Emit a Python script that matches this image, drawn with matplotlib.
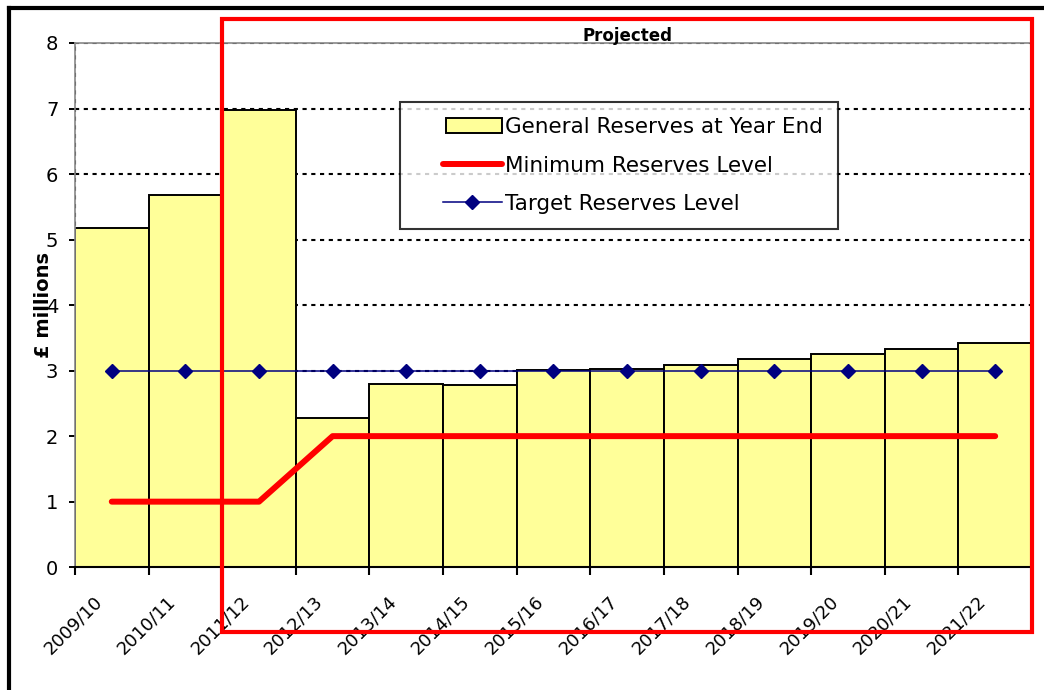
import matplotlib.pyplot as plt
import matplotlib.transforms as mtransforms
from matplotlib.patches import Rectangle, Patch
from matplotlib.lines import Line2D
from matplotlib.legend_handler import HandlerLine2D, HandlerPatch

# Data
years = ["2009/10", "2010/11", "2011/12", "2012/13", "2013/14", "2014/15", "2015/16",
         "2016/17", "2017/18", "2018/19", "2019/20", "2020/21", "2021/22"]
general_reserves = [5.17, 5.68, 6.97, 2.27, 2.79, 2.78, 3.01, 3.02, 3.09, 3.18, 3.25, 3.33, 3.42]
minimum_level = [1, 1, 1, 2, 2, 2, 2, 2, 2, 2, 2, 2, 2]
target_level = [3, 3, 3, 3, 3, 3, 3, 3, 3, 3, 3, 3, 3]
projected_from = 2  # index of first projected year

plt.rcParams['font.family'] = ['DejaVu Sans']

fig = plt.figure(figsize=(10.44, 6.9), dpi=100)
ax = fig.add_axes([0.0718, 0.178, 0.9167, 0.7597])

n = len(years)
centers = [i + 0.5 for i in range(n)]

# bars
ax.bar(centers, general_reserves, width=1.0, color='#FFFF99', edgecolor='black',
       linewidth=1.4, zorder=2)
# minimum reserves line
ax.plot(centers, minimum_level, color='#FF0000', linewidth=4.3,
        solid_capstyle='round', solid_joinstyle='round', zorder=3)
# target reserves line
ax.plot(centers, target_level, color='#000080', linewidth=1.1, marker='D',
        markersize=7, zorder=4)

ax.set_xlim(0, n)
ax.set_ylim(0, 8)
ax.set_yticks(range(0, 9))
ax.tick_params(axis='y', labelsize=14, length=4, width=1.4, direction='out', pad=8)

# grid
ax.set_axisbelow(True)
ax.yaxis.grid(True, color='black', linestyle=(0, (2.0, 2.2)), linewidth=1.5)
ax.axvline(0, color='black', linestyle=(0, (2.0, 2.2)), linewidth=1.5, zorder=1)

# x ticks: labels near category centres, tick marks at boundaries
ax.set_xticks(centers)
ax.set_xticklabels(years, rotation=45, ha='right', va='top', rotation_mode='anchor', fontsize=13)
ax.tick_params(axis='x', which='major', length=0, pad=18)
ax.set_xticks(range(0, n + 1), minor=True)
ax.tick_params(axis='x', which='minor', length=6, width=1.5, direction='out')
offset = mtransforms.ScaledTranslation(-19 / 100, 0, fig.dpi_scale_trans)
for lbl in ax.get_xticklabels():
    lbl.set_transform(lbl.get_transform() + offset)

for side in ['top', 'right', 'left']:
    ax.spines[side].set_color('#888888')
    ax.spines[side].set_linewidth(1.2)
ax.spines['bottom'].set_color('black')
ax.spines['bottom'].set_linewidth(1.5)

ax.set_ylabel("£ millions", fontsize=14, fontweight='bold', labelpad=-5)

# projected region box
blend = mtransforms.blended_transform_factory(ax.transData, ax.transAxes)
box = Rectangle((projected_from, -0.124), n - projected_from, 1.17, transform=blend,
                fill=False, edgecolor='#FF0000', linewidth=3, clip_on=False, zorder=6)
ax.add_patch(box)
ax.text((projected_from + n) / 2, 1.013, "Projected", transform=blend, ha='center',
        va='center', fontsize=12, fontweight='bold', zorder=7)

# legend
handles = [
    Patch(facecolor='#FFFF99', edgecolor='black', linewidth=1.4),
    Line2D([], [], color='#FF0000', linewidth=4.3, solid_capstyle='round'),
    Line2D([], [], color='#000080', linewidth=1.1, marker='D', markersize=7),
]
labels = ["General Reserves at Year End", "Minimum Reserves Level", "Target Reserves Level"]
hmap = {handles[0]: HandlerPatch(xpad=1.4),
        handles[1]: HandlerLine2D(xpad=1.3),
        handles[2]: HandlerLine2D(xpad=1.3)}
leg = ax.legend(handles, labels, handler_map=hmap, loc='upper left',
                bbox_to_anchor=(0.34, 0.887), borderaxespad=0,
                fontsize=15.5, frameon=True, fancybox=False, handlelength=4.0,
                handletextpad=0.15, labelspacing=0.85, borderpad=0.7)
leg.get_frame().set_edgecolor('black')
leg.get_frame().set_linewidth(1.5)
leg.set_zorder(8)

# outer chart border (partly outside the image)
fig.add_artist(Line2D([9 / 1044, 9 / 1044], [0, 1 - 8 / 690], color='black', linewidth=3))
fig.add_artist(Line2D([9 / 1044, 1], [1 - 8 / 690, 1 - 8 / 690], color='black', linewidth=3))

fig.savefig("out.png", dpi=100)
